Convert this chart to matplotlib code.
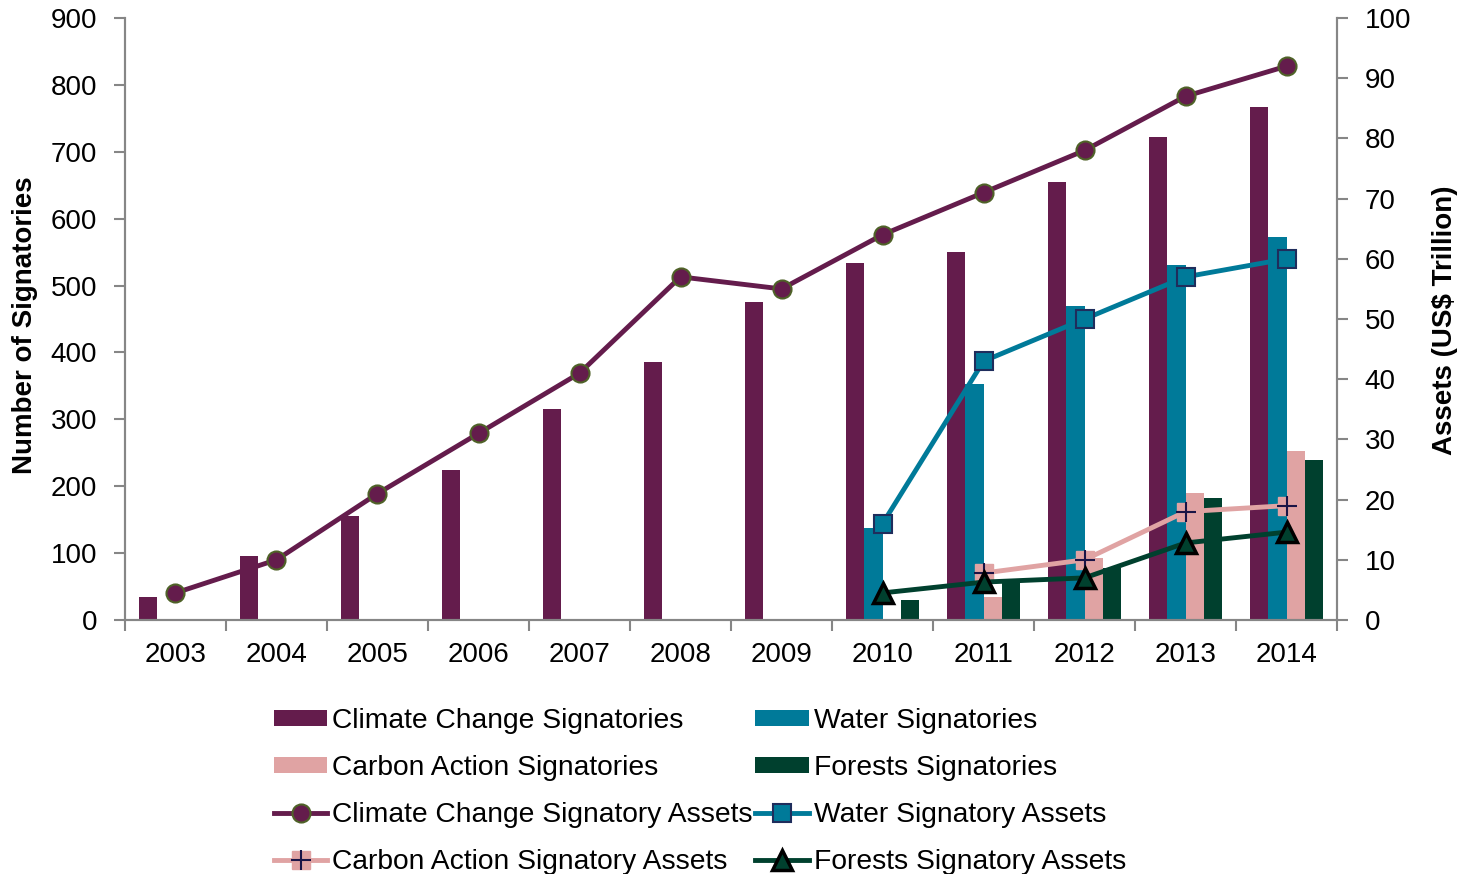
import numpy as np
import matplotlib
matplotlib.use("Agg")
import matplotlib.pyplot as plt

plt.rcParams["font.family"] = ["Liberation Sans", "DejaVu Sans"]

# ========================== Data ========================== #
years = ["2003", "2004", "2005", "2006", "2007", "2008",
         "2009", "2010", "2011", "2012", "2013", "2014"]

climate_sig = [35, 95, 155, 225, 315, 385, 475, 533, 550, 655, 722, 767]
water_sig = [0, 0, 0, 0, 0, 0, 0, 137, 353, 470, 530, 573]
carbon_sig = [0, 0, 0, 0, 0, 0, 0, 0, 35, 92, 190, 253]
forests_sig = [0, 0, 0, 0, 0, 0, 0, 30, 55, 78, 183, 239]

nan = np.nan
climate_assets = [4.5, 10, 21, 31, 41, 57, 55, 64, 71, 78, 87, 92]
water_assets = [nan, nan, nan, nan, nan, nan, nan, 16, 43, 50, 57, 60]
carbon_assets = [nan, nan, nan, nan, nan, nan, nan, nan, 7.8, 10, 18, 19]
forests_assets = [nan, nan, nan, nan, nan, nan, nan, 4.5, 6.3, 7, 12.8, 14.6]

c_climate = "#641C4C"
c_water = "#007A99"
c_carbon = "#E0A3A3"
c_forests = "#00402E"
c_axis = "#868686"

x = np.arange(len(years))
w = 0.18

fig = plt.figure(figsize=(14.6, 8.74), dpi=100)
ax1 = fig.add_axes([0.0856, 0.2906, 0.8302, 0.6888])

b1 = ax1.bar(x - 1.5 * w, climate_sig, w, color=c_climate)
b2 = ax1.bar(x - 0.5 * w, water_sig, w, color=c_water)
b3 = ax1.bar(x + 0.5 * w, carbon_sig, w, color=c_carbon)
b4 = ax1.bar(x + 1.5 * w, forests_sig, w, color=c_forests)

ax1.set_xlim(-0.5, len(years) - 0.5)
ax1.set_ylim(0, 900)
ax1.set_yticks(range(0, 901, 100))
ax1.set_xticks(x)
ax1.set_xticklabels(years)
ax1.set_xticks(np.arange(-0.5, len(years)), minor=True)
ax1.tick_params(axis="x", which="major", length=0, pad=16, labelsize=20)
ax1.tick_params(axis="x", which="minor", length=8, width=1.5, color=c_axis, direction="out")
ax1.tick_params(axis="y", length=8, width=1.5, color=c_axis, pad=12, labelsize=20)

ax2 = ax1.twinx()
l1, = ax2.plot(x, climate_assets, "-o", color=c_climate, lw=3.5, ms=13,
               mfc=c_climate, mec="#4F6228", mew=1.5)
l2, = ax2.plot(x, water_assets, "-s", color=c_water, lw=3.5, ms=13,
               mfc=c_water, mec="#1F2D5C", mew=1.5)
l3, = ax2.plot(x, carbon_assets, "-s", color=c_carbon, lw=3.5, ms=13,
               mfc=c_carbon, mec=c_carbon)
l3p, = ax2.plot(x, carbon_assets, "+", color="#1A1446", ms=14, mew=1.5, ls="none")
l4, = ax2.plot(x, forests_assets, "-^", color=c_forests, lw=3.5, ms=14,
               mfc=c_forests, mec="black", mew=2.5)
ax2.set_ylim(0, 100)
ax2.set_yticks(range(0, 101, 10))
ax2.tick_params(axis="y", length=8, width=1.5, color=c_axis, pad=12, labelsize=20)

for ax in (ax1, ax2):
    ax.spines["top"].set_visible(False)
    for s in ("left", "right", "bottom"):
        ax.spines[s].set_color(c_axis)
        ax.spines[s].set_linewidth(1.5)
    ax.patch.set_visible(False)

fig.text(25 / 1460, 1 - 325 / 874, "Number of Signatories", rotation=90,
         ha="center", va="center", fontsize=20, fontweight="bold")
fig.text(1445 / 1460, 1 - 320 / 874, "Assets (US$ Trillion)", rotation=90,
         ha="center", va="center", fontsize=20, fontweight="bold")

handles = [b1, b3, l1, (l3, l3p), b2, b4, l2, l4]
labels = ["Climate Change Signatories", "Carbon Action Signatories",
          "Climate Change Signatory Assets", "Carbon Action Signatory Assets",
          "Water Signatories", "Forests Signatories",
          "Water Signatory Assets", "Forests Signatory Assets"]
fig.legend(handles, labels, loc="upper left", bbox_to_anchor=(0.1875, 0.19),
           ncol=2, fontsize=20.3, frameon=False, handlelength=1.9,
           handleheight=0.5, handletextpad=0.18, columnspacing=0.08,
           labelspacing=0.75, borderaxespad=0, borderpad=0)

plt.savefig("out.png", dpi=100)
plt.close()
